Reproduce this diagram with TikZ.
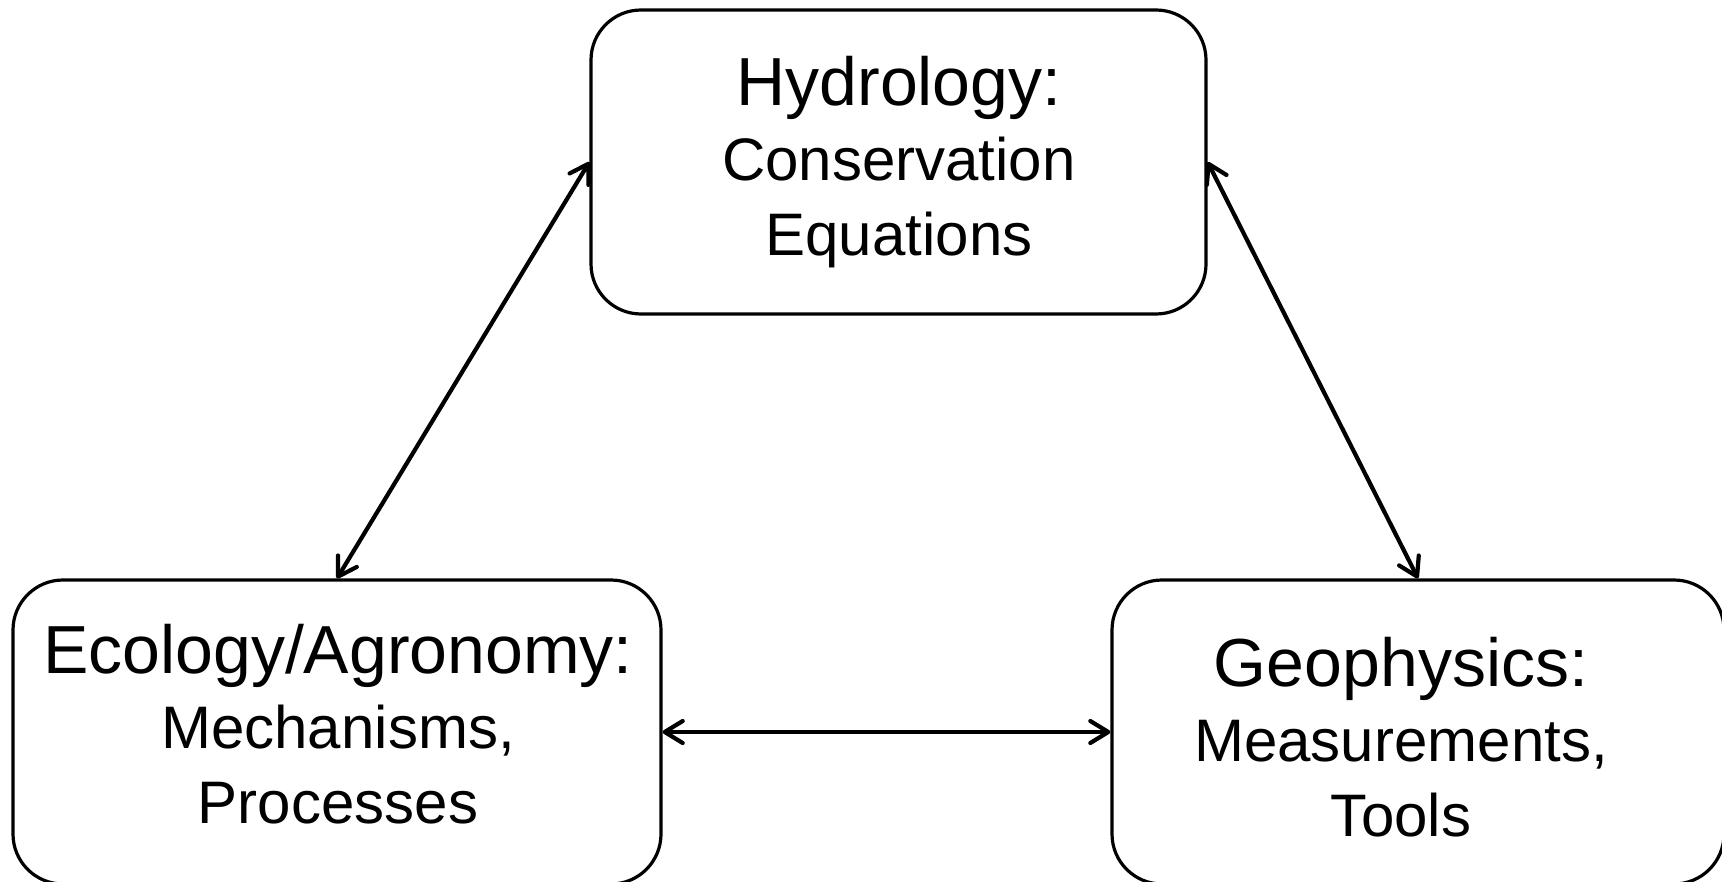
\documentclass[tikz,border=0pt]{standalone}
\usepackage{fontspec}
\setmainfont{Liberation Sans}
\usetikzlibrary{arrows.meta}
\usetikzlibrary{positioning}
\newcommand{\headfont}{\fontsize{34}{37.5}\selectfont\rule{0pt}{25pt}}

\begin{document}
\begin{tikzpicture}[x=0.5pt,y=-0.5pt,
		box/.style={draw,rectangle,rounded corners=25pt,line width=1.6pt,minimum height=152pt,inner sep=0pt},
		txt/.style={anchor=north,align=center,inner sep=0pt,font=\fontsize{30}{37.5}\selectfont},
		link/.style={line width=2.1pt,{Straight Barb[length=9pt,width=11pt,round]}-{Straight Barb[length=9pt,width=11pt,round]}}]
		\useasboundingbox (0,0) rectangle (1722,882);
		% the three fields
		\node (hydro) [box,minimum width=307.5pt] at (898.5,162) {};
		\node (ecol) [box,minimum width=324pt] at (337,732) {};
		\node (geo) [box,minimum width=306pt] at (1418,732) {};
		\node (hydrotxt) [txt] at (899,55) {{\headfont Hydrology:}\\Conservation\\Equations};
		\node (ecoltxt) [txt] at (338,623) {{\headfont Ecology/Agronomy:}\\Mechanisms,\\Processes};
		\node (geotxt) [txt] at (1401,636) {{\headfont Geophysics:}\\Measurements,\\Tools};
		% links
		\draw[link] (hydro.west) -- (ecol.north);
		\draw[link] (hydro.east) -- (geo.north);
		\draw[link] (ecol.east) -- (geo.west);
	\end{tikzpicture}
\end{document}
